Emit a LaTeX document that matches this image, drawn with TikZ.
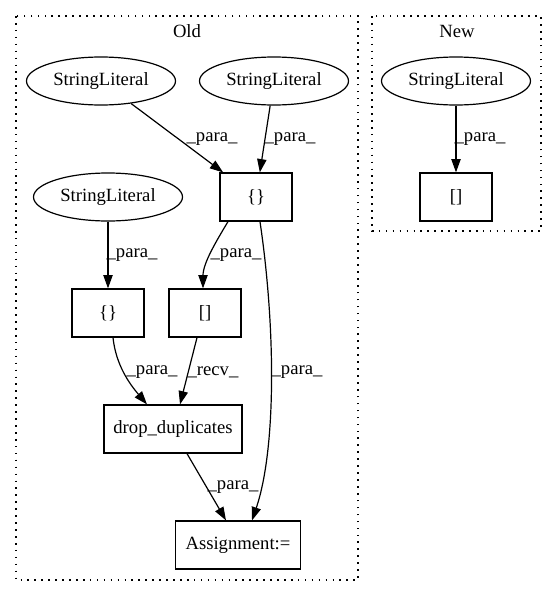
\documentclass[tikz,border=0pt]{standalone}
\usepackage{fontspec}
\setmainfont{Liberation Serif}
\usetikzlibrary{arrows.meta,shapes.geometric,calc,positioning}
\tikzstyle{every node}+=[inner sep=0.5mm,font=\fontsize{14}{16}\selectfont]
\tikzstyle{every path}+=[line width=0.9pt]
\tikzstyle{lit}=[draw,ellipse,minimum width=111.75pt,minimum height=36pt]
\tikzstyle{op}=[draw,rectangle,minimum width=54pt,minimum height=36pt]
\tikzstyle{link}=[-{Triangle[length=10pt,width=7pt]}]
\tikzstyle{cluster}=[dash pattern=on 1.2pt off 4pt]
\newcommand{\drawlinks}[2][]{
	\foreach \a/\b in {#2}{
		\draw[link,#1] (\a) -- (\b);
	}
}

\begin{document}
\begin{tikzpicture}[x=0.75pt,y=-0.75pt]
	\useasboundingbox (0,0) rectangle (557,596);
	\draw[cluster] (16,16) rectangle (358,580);
	\draw[cluster] (372,16) rectangle (541,231);
	\node (old) at (187,31) {Old};
	\node (new) at (457,31) {New};
	% old
	\node[lit] (s1) at (101,81) {StringLiteral};
	\node[lit] (s2) at (274,81) {StringLiteral};
	\node[lit] (s3) at (108,197) {StringLiteral};
	\node[op] (b1) at (256,197) {\{\}};
	\node[op] (b2) at (108,313) {\{\}};
	\node[op] (sq) at (205,313) {[]};
	\node[op,minimum width=103.5pt] (dd) at (173,429) {drop\_duplicates};
	\node[op,minimum width=93.75pt] (as) at (238,545) {Assignment:=};
	% new
	\node[lit] (ns) at (456,81) {StringLiteral};
	\node[op] (nsq) at (456,197) {[]};
	\drawlinks{s1/b1,s2/b1,s3/b2,ns/nsq}
	\draw[link] ($(b1.south)+(-28,0)$) .. controls +(-12,20) and +(0,-25) .. ($(sq.north)+(-2,0)$);
	\draw[link] ($(b1.south)+(4,0)$) .. controls (276,330) and (276,450) .. ($(as.north)+(14,0)$);
	\draw[link] ($(b2.south)+(5,0)$) .. controls +(3,28) and +(-17,-20) .. ($(dd.north)+(-26,0)$);
	\draw[link] ($(sq.south)+(-8,0)$) -- ($(dd.north)+(7,0)$);
	\draw[link] ($(dd.south)+(14,0)$) -- ($(as.north)+(-12,0)$);
	% labels
	\node (p1) at (212,139) {\_para\_};
	\node (p2) at (290,139) {\_para\_};
	\node (p3) at (132,255) {\_para\_};
	\node (p4) at (236,255) {\_para\_};
	\node (p5) at (152,372) {\_para\_};
	\node (r6) at (213,372) {\_recv\_};
	\node (p7) at (297,372) {\_para\_};
	\node (p8) at (233,487) {\_para\_};
	\node (p9) at (480,139) {\_para\_};
\end{tikzpicture}
\end{document}
